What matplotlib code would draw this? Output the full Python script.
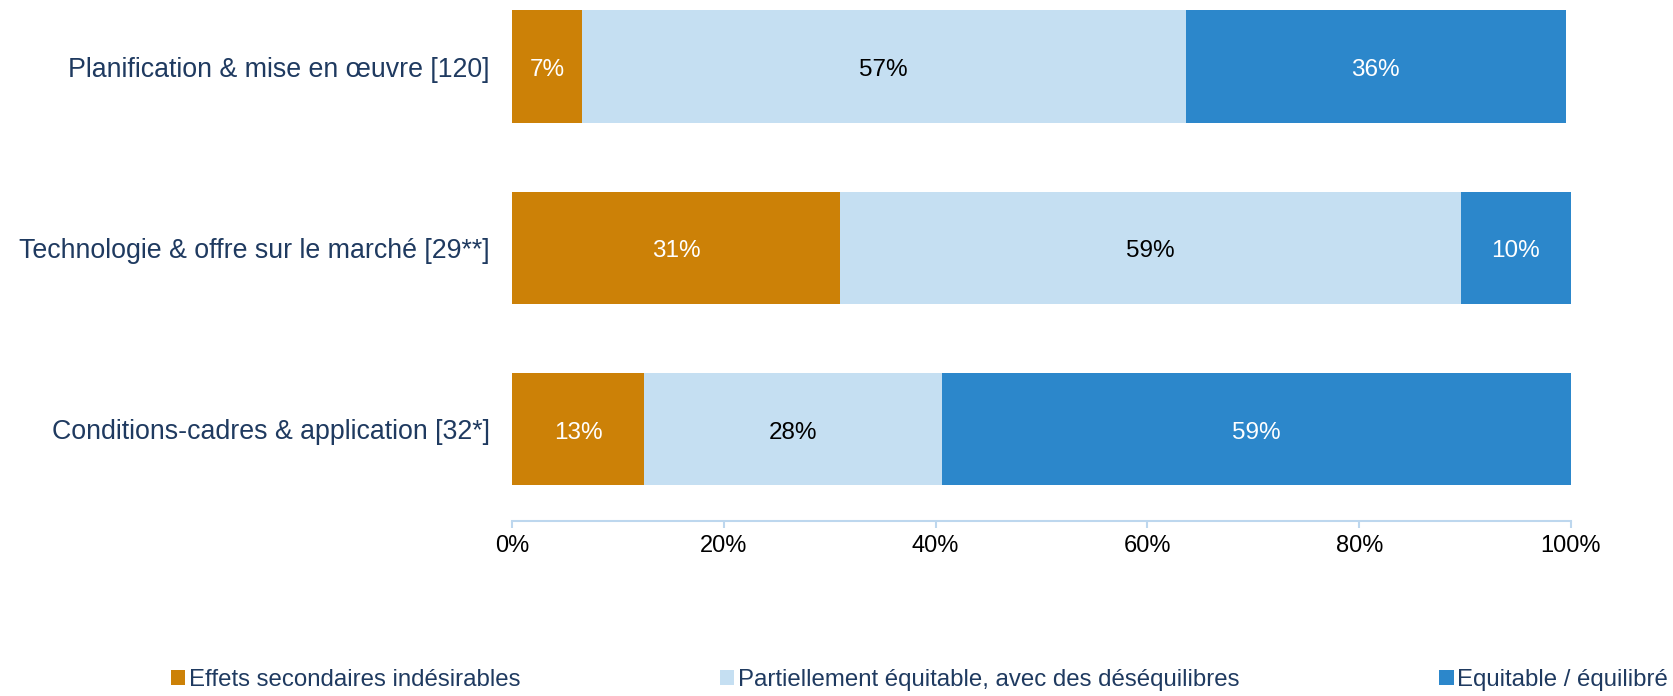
import matplotlib.pyplot as plt
import numpy as np

plt.rcParams['font.family'] = ['Liberation Sans', 'DejaVu Sans']

categories = ["Planification & mise en œuvre [120]",
              "Technologie & offre sur le marché [29**]",
              "Conditions-cadres & application [32*]"]
series_names = ["Effets secondaires indésirables",
                "Partiellement équitable, avec des déséquilibres",
                "Equitable / équilibré"]
effets = [6.6, 31.0, 12.5]
partiel = [57.0, 58.6, 28.1]
equitable = [35.9, 10.4, 59.4]
labels_effets = ["7%", "31%", "13%"]
labels_partiel = ["57%", "59%", "28%"]
labels_equitable = ["36%", "10%", "59%"]

couleurs = ["#CC8107", "#C5DFF2", "#2C87CB"]
couleurs_texte = ["white", "black", "white"]
navy = "#1F3A60"

fig = plt.figure(figsize=(16.73, 6.96), dpi=100)
ax = fig.add_axes([512/1673, 1 - 521/696, (1571-512)/1673, 521/696])

y = np.arange(len(categories))
gauche = np.zeros(len(categories))
series = [effets, partiel, equitable]
etiquettes = [labels_effets, labels_partiel, labels_equitable]
for vals, lab, c, ct, nom in zip(series, etiquettes, couleurs, couleurs_texte, series_names):
    vals = np.array(vals)
    barres = ax.barh(y, vals, left=gauche, height=0.62, color=c, label=nom)
    # petit decalage vers le bas pour centrer comme l'original
    for b, t in zip(barres, lab):
        ax.text(b.get_x() + b.get_width()/2, b.get_y() + b.get_height()/2 + 0.02, t,
                ha='center', va='center', color=ct, fontsize=17.5)
    gauche += vals

ax.set_xlim(0, 100)
ax.set_ylim(2.507, -0.367)
ax.set_xticks([0, 20, 40, 60, 80, 100])
ax.set_xticklabels([f"{v}%" for v in [0, 20, 40, 60, 80, 100]], fontsize=17)
ax.set_yticks(y)
ax.set_yticklabels(categories, fontsize=19.3, color=navy)
ax.tick_params(axis='y', length=0, pad=16)
ax.tick_params(axis='x', length=5, color="#BDD7EE", width=1.5, pad=5)
for s in ['top', 'right', 'left']:
    ax.spines[s].set_visible(False)
ax.spines['bottom'].set_color("#BDD7EE")
ax.spines['bottom'].set_linewidth(1.5)

leg = fig.legend(loc='center', ncol=3, mode='expand', frameon=False,
                 bbox_to_anchor=(171/1673, 1 - 695/696, (1668-171)/1673, 30/696),
                 fontsize=17.3, handlelength=0.6, handleheight=0.6, handletextpad=0.15,
                 borderaxespad=0, borderpad=0)
for t in leg.get_texts():
    t.set_color(navy)

fig.savefig("out.png", dpi=100)
